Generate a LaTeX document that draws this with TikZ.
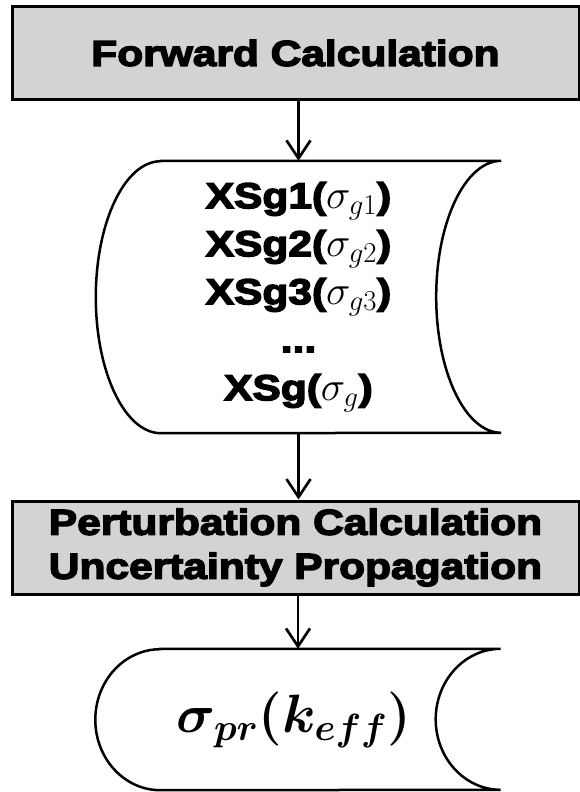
\documentclass[tikz,border=0pt]{standalone}
\usepackage{fix-cm}
\usepackage{amsmath}
\usepackage{fontspec}
\newfontfamily\blackfont[FakeStretch=1.18,FakeBold=4]{Liberation Sans Bold}
\usetikzlibrary{arrows.meta}
\definecolor{boxgray}{RGB}{211,211,211}
\newcommand{\xsig}[1]{{\fontsize{41}{48}\selectfont$\sigma_{#1}$}}

\begin{document}
\begin{tikzpicture}[x=1pt, y=1pt,
  box/.style={draw, line width=3pt, fill=boxgray, minimum width=567pt,
              minimum height=92pt, align=center, inner sep=0pt,
              font=\blackfont\fontsize{36}{44}\selectfont},
  store/.style={minimum width=405pt, align=center, inner sep=0pt},
  arr/.style={-{Straight Barb[length=18pt,width=24pt]}, line width=2.7pt}]
\useasboundingbox (0,0) rectangle (580,-792);
\node[box] (fwd) at (295.5,-53) {Forward Calculation};
\node[store, minimum height=272pt, font=\blackfont\fontsize{36}{48}\selectfont] (xs) at (298.5,-297)
  {XSg1(\xsig{g1})\\ XSg2(\xsig{g2})\\ XSg3(\xsig{g3})\\ ...\\ XSg(\xsig{g})};
\node[box, minimum height=93pt] (pert) at (295.5,-547.5) {Perturbation Calculation\\ Uncertainty Propagation};
\node[store, minimum height=141pt, font=\fontsize{54}{60}\selectfont] (unc) at (298,-719.5)
  {$\boldsymbol{\sigma_{pr}(k_{eff})}$\hspace*{8pt}};
% stored data outlines
\foreach \s/\h in {xs/136, unc/70.5}
  \draw[line width=2.5pt] ([xshift=65pt]\s.north west) -- (\s.north east)
    arc[start angle=90, end angle=270, x radius=65pt, y radius=\h pt]
    -- ([xshift=65pt]\s.south west)
    arc[start angle=270, end angle=90, x radius=65pt, y radius=\h pt] -- cycle;
\draw[arr] (xs.north |- fwd.south) -- (xs.north);
\draw[arr] (xs.south) -- (xs.south |- pert.north);
\draw[arr] (unc.north |- pert.south) -- (unc.north);
\end{tikzpicture}
\end{document}
